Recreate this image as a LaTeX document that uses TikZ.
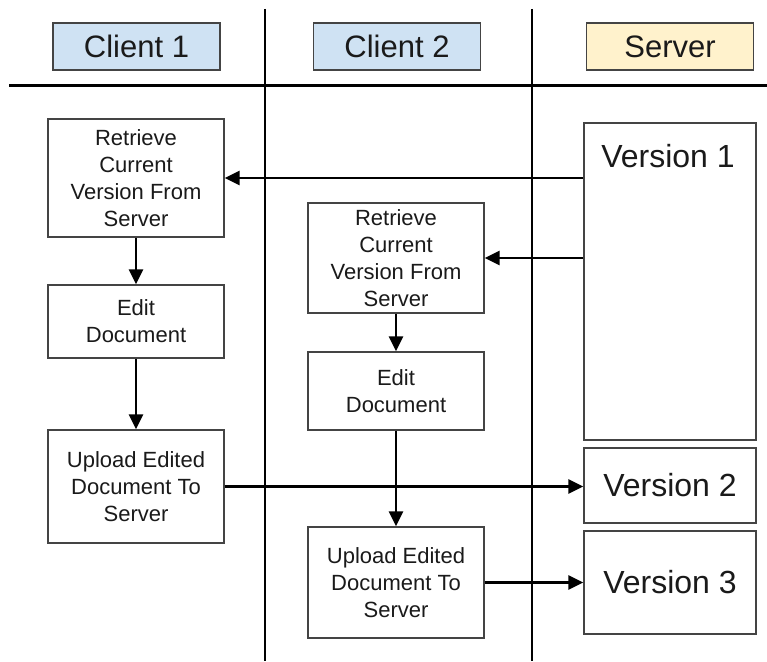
\documentclass[tikz,border=0pt]{standalone}
\usepackage{fontspec}
\setmainfont{Liberation Sans}
\usetikzlibrary{arrows.meta}
\definecolor{clientblue}{HTML}{CFE2F3}
\definecolor{serveryellow}{HTML}{FFF2CC}
\definecolor{edge}{HTML}{444444}
\definecolor{ink}{HTML}{1A1A1A}
\tikzset{
  lane/.style={line width=2.6pt, black},
  header/.style={draw=edge, line width=1.4pt, minimum width=167pt, minimum height=47pt, inner sep=0pt, text=ink, font=\fontsize{31}{35}\selectfont},
  stepbox/.style={draw=edge, line width=1.4pt, fill=white, minimum width=176pt, inner sep=0pt, align=center, text=ink, font=\fontsize{22}{27}\selectfont},
  verbox/.style={draw=edge, line width=1.4pt, fill=white, minimum width=172pt, inner sep=0pt, text=ink, font=\fontsize{32}{36}\selectfont},
  arr/.style={line width=2.6pt, -{Triangle[length=15pt,width=14pt]}},
}
\begin{document}
\begin{tikzpicture}[x=1pt,y=-1pt]
\useasboundingbox (0,0) rectangle (767,661);
% lanes
\coordinate (l1t) at (265,9);
\coordinate (l1b) at (265,661);
\coordinate (l2t) at (532,9);
\coordinate (l2b) at (532,661);
\coordinate (hl) at (9,85);
\coordinate (hr) at (767,85);
\draw[lane] (l1t) -- (l1b);
\draw[lane] (l2t) -- (l2b);
\draw[lane, line width=3pt] (hl) -- (hr);
% headers
\node[header, fill=clientblue] (h1) at (136.5,46.5) {Client 1};
\node[header, fill=clientblue] (h2) at (397,46.5) {Client 2};
\node[header, fill=serveryellow] (h3) at (670,46.5) {Server};
% client 1
\node[stepbox, minimum height=118pt] (c1r) at (136,178) {Retrieve\\Current\\Version From\\Server};
\node[stepbox, minimum height=73pt] (c1e) at (136,321.5) {Edit\\Document};
\node[stepbox, minimum height=113pt] (c1u) at (136,486.5) {Upload Edited\\Document To\\Server};
% client 2
\node[stepbox, minimum height=110pt] (c2r) at (396,258) {Retrieve\\Current\\Version From\\Server};
\node[stepbox, minimum height=78pt] (c2e) at (396,391) {Edit\\Document};
\node[stepbox, minimum height=111pt] (c2u) at (396,582.5) {Upload Edited\\Document To\\Server};
% server
\node[verbox, minimum height=317pt] (v1) at (670,281.5) {};
\node[anchor=base, text=ink, font=\fontsize{32}{36}\selectfont] (v1t) at (668,167) {Version 1};
\node[verbox, minimum height=75pt] (v2) at (670,485.5) {Version 2};
\node[verbox, minimum height=103pt] (v3) at (670,582.5) {Version 3};
% arrows
\draw[arr] (c1r.east -| v1.west) -- (c1r.east);
\draw[arr] (c2r.east -| v1.west) -- (c2r.east);
\draw[arr] (c1u.east) -- (c1u.east -| v2.west);
\draw[arr] (c2u.east) -- (c2u.east -| v3.west);
\draw[arr] (c1r.south) -- (c1e.north);
\draw[arr] (c1e.south) -- (c1u.north);
\draw[arr] (c2r.south) -- (c2e.north);
\draw[arr] (c2e.south) -- (c2u.north);
\end{tikzpicture}
\end{document}
